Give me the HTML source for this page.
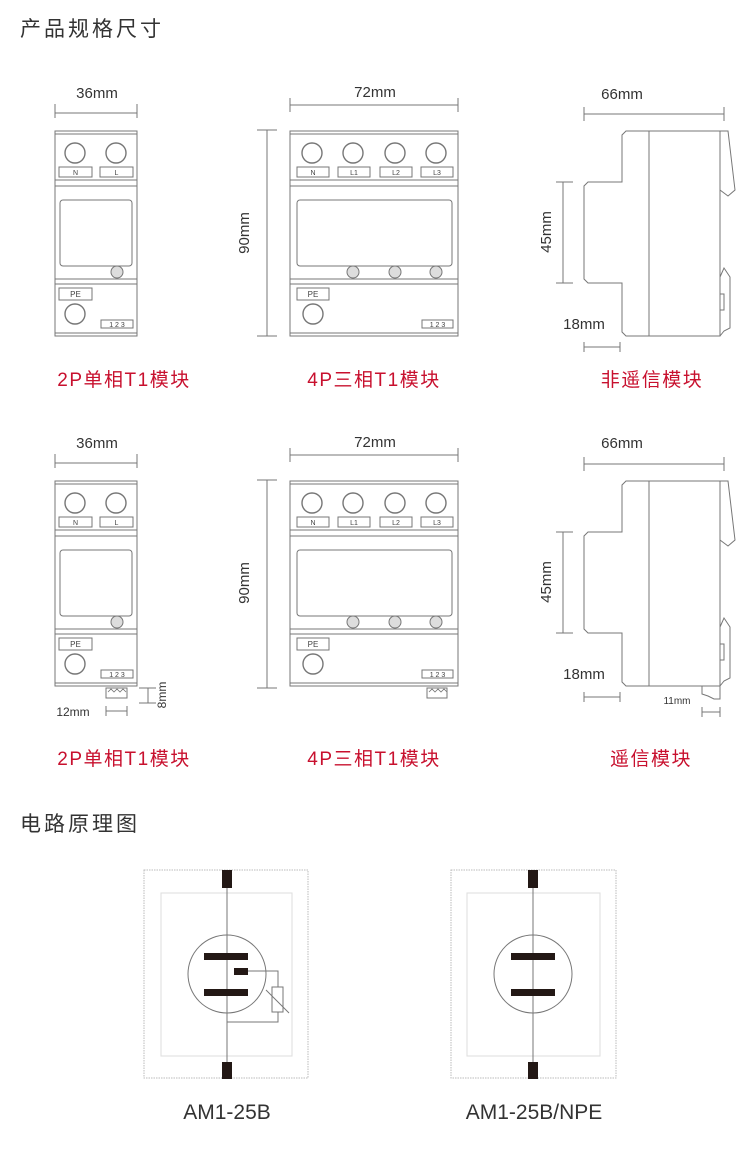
<!DOCTYPE html>
<html><head><meta charset="utf-8"><style>
body{margin:0;background:#fff;width:750px;height:1159px;overflow:hidden}
svg{display:block}
text{font-family:"Liberation Sans","Noto Sans CJK SC",sans-serif}
.h{font-size:21px;fill:#333;letter-spacing:3px}
.r{font-size:19px;fill:#c8102e;text-anchor:middle;letter-spacing:1.5px}
.d{font-size:15px;fill:#333;text-anchor:middle}
.s{font-size:7px;fill:#444;text-anchor:middle}
</style></head><body>
<svg width="750" height="1159" viewBox="0 0 750 1159" fill="none" stroke="#777" stroke-width="1">
<defs>
<g id="m2">
<rect x="55" y="131" width="82" height="205"/>
<line x1="55" y1="134" x2="137" y2="134"/>
<line x1="55" y1="180" x2="137" y2="180"/><line x1="55" y1="186" x2="137" y2="186"/>
<circle cx="75" cy="153" r="10" stroke-width="1.4"/><circle cx="116" cy="153" r="10" stroke-width="1.4"/>
<rect x="59" y="167" width="33" height="10"/><rect x="100" y="167" width="33" height="10"/>
<text class="s" x="75.5" y="175" stroke="none">N</text><text class="s" x="116.5" y="175" stroke="none">L</text>
<rect x="60" y="200" width="72" height="66" rx="3"/>
<circle cx="117" cy="272" r="6" fill="#ddd"/>
<line x1="55" y1="279" x2="137" y2="279"/><line x1="55" y1="284" x2="137" y2="284"/>
<rect x="59" y="288" width="33" height="12"/><text class="s" x="75.5" y="297" stroke="none" style="font-size:8px">PE</text>
<circle cx="75" cy="314" r="10" stroke-width="1.4"/>
<rect x="101" y="320" width="32" height="8"/><text class="s" x="117" y="327" stroke="none">1  2  3</text>
<line x1="55" y1="333" x2="137" y2="333"/>
</g>
<g id="m4">
<rect x="290" y="131" width="168" height="205"/>
<line x1="290" y1="134" x2="458" y2="134"/>
<line x1="290" y1="180" x2="458" y2="180"/><line x1="290" y1="186" x2="458" y2="186"/>
<circle cx="312" cy="153" r="10" stroke-width="1.4"/><circle cx="353" cy="153" r="10" stroke-width="1.4"/>
<circle cx="395" cy="153" r="10" stroke-width="1.4"/><circle cx="436" cy="153" r="10" stroke-width="1.4"/>
<rect x="297" y="167" width="32" height="10"/><rect x="338" y="167" width="32" height="10"/>
<rect x="380" y="167" width="32" height="10"/><rect x="421" y="167" width="32" height="10"/>
<g stroke="none"><text class="s" x="313" y="175">N</text><text class="s" x="354" y="175">L1</text><text class="s" x="396" y="175">L2</text><text class="s" x="437" y="175">L3</text></g>
<rect x="297" y="200" width="155" height="66" rx="3"/>
<circle cx="353" cy="272" r="6" fill="#ddd"/><circle cx="395" cy="272" r="6" fill="#ddd"/><circle cx="436" cy="272" r="6" fill="#ddd"/>
<line x1="290" y1="279" x2="458" y2="279"/><line x1="290" y1="284" x2="458" y2="284"/>
<rect x="297" y="288" width="32" height="12"/><text class="s" x="313" y="297" stroke="none" style="font-size:8px">PE</text>
<circle cx="313" cy="314" r="10" stroke-width="1.4"/>
<rect x="422" y="320" width="31" height="8"/><text class="s" x="437.5" y="327" stroke="none">1  2  3</text>
<line x1="290" y1="333" x2="458" y2="333"/>
</g>
<g id="side">
<path d="M626 131 L720 131 L720 336 L626 336 L622 332 L622 283 L588 283 L584 279 L584 186 L588 182 L622 182 L622 135 Z"/>
<line x1="649" y1="131" x2="649" y2="336"/>
<path d="M720 131 L728 131 L735 190 L728 196 L720 190"/>
<path d="M720 277 L724 268 L730 277 L730 328 L724 331 L720 336"/>
<rect x="720" y="294" width="4" height="16"/>
<line x1="563" y1="182" x2="563" y2="283"/><line x1="556" y1="182" x2="573" y2="182"/><line x1="556" y1="283" x2="573" y2="283"/>
<line x1="584" y1="347" x2="620" y2="347"/><line x1="584" y1="342" x2="584" y2="352"/><line x1="620" y1="342" x2="620" y2="352"/>
</g>
</defs>

<text class="h" x="20" y="36" stroke="none">产品规格尺寸</text>

<!-- Row 1 -->
<use href="#m2"/>
<line x1="55" y1="113" x2="137" y2="113"/><line x1="55" y1="104" x2="55" y2="118"/><line x1="137" y1="104" x2="137" y2="118"/>
<text class="d" x="97" y="98" stroke="none">36mm</text>
<line x1="267" y1="130" x2="267" y2="336"/><line x1="257" y1="130" x2="277" y2="130"/><line x1="257" y1="336" x2="277" y2="336"/>
<text class="d" x="0" y="0" stroke="none" transform="translate(249,233) rotate(-90)">90mm</text>
<use href="#m4"/>
<line x1="290" y1="105" x2="458" y2="105"/><line x1="290" y1="98" x2="290" y2="112"/><line x1="458" y1="98" x2="458" y2="112"/>
<text class="d" x="375" y="97" stroke="none">72mm</text>
<use href="#side"/>
<line x1="584" y1="114" x2="724" y2="114"/><line x1="584" y1="107" x2="584" y2="121"/><line x1="724" y1="107" x2="724" y2="121"/>
<text class="d" x="622" y="99" stroke="none">66mm</text>
<text class="d" x="0" y="0" stroke="none" transform="translate(551,232) rotate(-90)">45mm</text>
<text class="d" x="584" y="329" stroke="none">18mm</text>
<text class="r" x="124" y="386" stroke="none">2P单相T1模块</text>
<text class="r" x="374" y="386" stroke="none">4P三相T1模块</text>
<text class="r" x="652" y="386" stroke="none">非遥信模块</text>

<!-- Row 2 -->
<g transform="translate(0,350)">
<use href="#m2"/>
<line x1="55" y1="113" x2="137" y2="113"/><line x1="55" y1="104" x2="55" y2="118"/><line x1="137" y1="104" x2="137" y2="118"/>
<text class="d" x="97" y="98" stroke="none">36mm</text>
<line x1="267" y1="130" x2="267" y2="338"/><line x1="257" y1="130" x2="277" y2="130"/><line x1="257" y1="338" x2="277" y2="338"/>
<text class="d" x="0" y="0" stroke="none" transform="translate(249,233) rotate(-90)">90mm</text>
<use href="#m4"/>
<line x1="290" y1="105" x2="458" y2="105"/><line x1="290" y1="98" x2="290" y2="112"/><line x1="458" y1="98" x2="458" y2="112"/>
<text class="d" x="375" y="97" stroke="none">72mm</text>
<use href="#side"/>
<path d="M702 336 L702 344 L708 346 L714 349 L720 349 L720 336"/>
<line x1="584" y1="114" x2="724" y2="114"/><line x1="584" y1="107" x2="584" y2="121"/><line x1="724" y1="107" x2="724" y2="121"/>
<text class="d" x="622" y="98" stroke="none">66mm</text>
<text class="d" x="0" y="0" stroke="none" transform="translate(551,232) rotate(-90)">45mm</text>
<text class="d" x="584" y="329" stroke="none">18mm</text>
<line x1="702" y1="362" x2="720" y2="362"/><line x1="702" y1="357" x2="702" y2="367"/><line x1="720" y1="357" x2="720" y2="367"/>
<text class="d" x="677" y="354" stroke="none" style="font-size:10px">11mm</text>
<rect x="106" y="338" width="21" height="10"/><path d="M108 342 l3 -3 l3 3 l3 -3 l3 3 l3 -3 l3 3" stroke-width="0.8"/>
<rect x="427" y="338" width="20" height="10"/><path d="M429 342 l3 -3 l3 3 l3 -3 l3 3 l3 -3 l3 3" stroke-width="0.8"/>
<line x1="148" y1="338" x2="148" y2="353"/><line x1="139" y1="338" x2="156" y2="338"/><line x1="139" y1="353" x2="156" y2="353"/>
<text class="d" x="0" y="0" stroke="none" style="font-size:12px" transform="translate(166,345) rotate(-90)">8mm</text>
<line x1="106" y1="361" x2="127" y2="361"/><line x1="106" y1="356" x2="106" y2="366"/><line x1="127" y1="356" x2="127" y2="366"/>
<text class="d" x="73" y="366" stroke="none" style="font-size:12px">12mm</text>
</g>
<text class="r" x="124" y="765" stroke="none">2P单相T1模块</text>
<text class="r" x="374" y="765" stroke="none">4P三相T1模块</text>
<text class="r" x="651" y="765" stroke="none">遥信模块</text>

<text class="h" x="20" y="831" stroke="none">电路原理图</text>

<rect x="144" y="870" width="164" height="208" stroke="#bbb" stroke-dasharray="1.5 1"/>
<rect x="161" y="893" width="131" height="163" stroke="#ddd"/>
<line x1="227" y1="880" x2="227" y2="1070"/>
<circle cx="227" cy="974" r="39"/>
<g fill="#231815" stroke="none">
<rect x="222" y="870" width="10" height="18"/><rect x="222" y="1062" width="10" height="17"/>
<rect x="204" y="953" width="44" height="7"/><rect x="204" y="989" width="44" height="7"/><rect x="234" y="968" width="14" height="7"/>
</g>
<path d="M248 971 L278 971 L278 987 M278 1012 L278 1022 L227 1022"/>
<rect x="272" y="987" width="11" height="25"/>
<line x1="266" y1="990" x2="289" y2="1013"/>
<text class="d" x="227" y="1119" stroke="none" style="font-size:21px">AM1-25B</text>

<rect x="451" y="870" width="165" height="208" stroke="#bbb" stroke-dasharray="1.5 1"/>
<rect x="467" y="893" width="133" height="163" stroke="#ddd"/>
<line x1="533" y1="880" x2="533" y2="1070"/>
<circle cx="533" cy="974" r="39"/>
<g fill="#231815" stroke="none">
<rect x="528" y="870" width="10" height="18"/><rect x="528" y="1062" width="10" height="17"/>
<rect x="511" y="953" width="44" height="7"/><rect x="511" y="989" width="44" height="7"/>
</g>
<text class="d" x="534" y="1119" stroke="none" style="font-size:21px">AM1-25B/NPE</text>
</svg>
</body></html>
